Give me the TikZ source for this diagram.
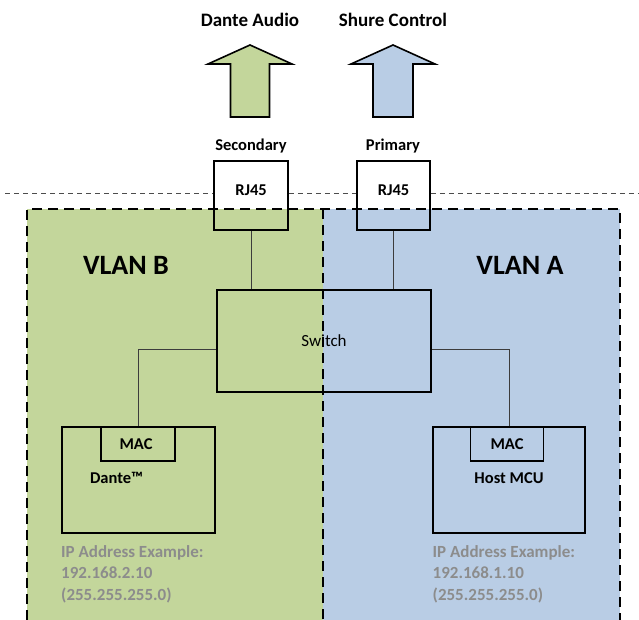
\documentclass[tikz,border=0pt]{standalone}
\usepackage{fontspec}
\setmainfont{Carlito}
\usetikzlibrary{calc}
\definecolor{vgreen}{HTML}{C3D69B}
\definecolor{vblue}{HTML}{B9CDE5}
\definecolor{ipgray}{RGB}{140,140,140}
\definecolor{lnk}{RGB}{60,60,60}
\tikzset{
  title/.style={font=\fontsize{19}{21}\selectfont\bfseries, text=black},
  lbl/.style={font=\fontsize{16.5}{18}\selectfont\bfseries, text=black, inner sep=0pt},
  vlan/.style={font=\fontsize{28}{30}\selectfont\bfseries, text=black},
  iptext/.style={font=\fontsize{17}{19}\selectfont\bfseries, text=ipgray, inner sep=0pt, anchor=base west},
  boxx/.style={draw=black, line width=1.6pt, rectangle, inner sep=0pt},
  bigarrow/.style={draw=black, line width=1.6pt, line join=miter},
  link/.style={draw=lnk, line width=0.9pt},
  vdash/.style={draw=black, line width=1.8pt, dash pattern=on 10pt off 6pt},
  thindash/.style={draw=black!70, line width=0.8pt, dash pattern=on 5pt off 4pt}
}
\begin{document}
\begin{tikzpicture}[x=1pt,y=-1pt]
\useasboundingbox (0,0) rectangle (639,620);
% VLAN regions
\fill[vgreen] (27,209) rectangle (323,620);
\fill[vblue] (323,209) rectangle (620,620);
% titles and arrows
\node[title] (tda) at (250,20) {Dante Audio};
\node[title] (tsc) at (393,20) {Shure Control};
\filldraw[bigarrow, fill=vgreen] (250,45) -- (292,64) -- (269.5,64) -- (269.5,117) -- (230.5,117) -- (230.5,64) -- (208,64) -- cycle;
\filldraw[bigarrow, fill=vblue] (393,45) -- (435,64) -- (413,64) -- (413,117) -- (373,117) -- (373,64) -- (351,64) -- cycle;
\node[lbl] (sec) at (251,146) {Secondary};
\node[lbl] (pri) at (393,146) {Primary};
% RJ45 boxes
\node[boxx, minimum width=74pt, minimum height=69pt] (rjb) at (251,195.5) {};
\node[boxx, minimum width=73pt, minimum height=69pt] (rja) at (393.5,195.5) {};
\node[lbl] (rjbt) at (251,190) {RJ45};
\node[lbl] (rjat) at (393.5,190) {RJ45};
% thin dashed boundary line
\coordinate (dl) at (5,193);
\coordinate (dr) at (639,193);
\draw[thindash] (dl) -- (dl -| rjb.west);
\draw[thindash] (dl -| rjb.east) -- (dl -| rja.west);
\draw[thindash] (dl -| rja.east) -- (dr);
% VLAN dashed outlines
\draw[vdash] (27,620) -- (27,209) -- (620,209) -- (620,620);
\draw[vdash] (323,209) -- (323,620);
\node[vlan] (vb) at (126,265) {VLAN B};
\node[vlan] (va) at (520,265) {VLAN A};
% switch
\node[boxx, minimum width=214pt, minimum height=102pt, font=\fontsize{17}{19}\selectfont] (sw) at (324,341) {Switch};
% end devices
\node[boxx, minimum width=153pt, minimum height=106pt] (dante) at (138.5,480) {};
\node[boxx, minimum width=74pt, minimum height=34pt] (macb) at (138,444) {};
\node[lbl] (macbt) at (136,444) {MAC};
\node[lbl] (dantet) at (116.5,478) {Dante™};
\node[boxx, minimum width=152pt, minimum height=106pt] (host) at (509,480) {};
\node[boxx, minimum width=73pt, minimum height=34pt] (maca) at (507,444) {};
\node[lbl] (macat) at (507,444) {MAC};
\node[lbl] (hostt) at (509,478) {Host MCU};
% connectors
\draw[link] (rjb.south) -- (rjb.south |- sw.north);
\draw[link] (rja.south) -- (rja.south |- sw.north);
\draw[link] ($(sw.west)+(0,8)$) -| (macb.north);
\draw[link] ($(sw.east)+(0,8)$) -| ($(maca.north)+(2,0)$);
% IP text
\node[iptext] (ipb1) at (61,557) {IP Address Example:};
\node[iptext] (ipb2) at (61,578.5) {192.168.2.10};
\node[iptext] (ipb3) at (61,600) {(255.255.255.0)};
\node[iptext] (ipa1) at (432.5,557) {IP Address Example:};
\node[iptext] (ipa2) at (432.5,578.5) {192.168.1.10};
\node[iptext] (ipa3) at (432.5,600) {(255.255.255.0)};
\end{tikzpicture}
\end{document}
